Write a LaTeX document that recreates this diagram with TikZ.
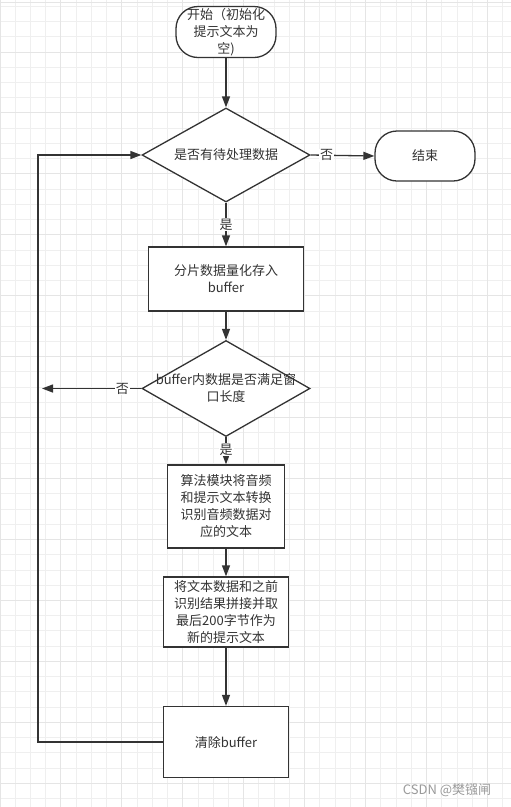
\documentclass[tikz,border=0pt]{standalone}
\usepackage{fontspec}
\setmainfont{Noto Sans CJK SC}
\usetikzlibrary{shapes.geometric,arrows.meta}
\definecolor{ln}{HTML}{333333}
\definecolor{gridminor}{HTML}{EFEFEF}
\definecolor{gridmajor}{HTML}{E5E5E5}
\definecolor{wm}{HTML}{9A9A9A}
\begin{document}
\begin{tikzpicture}[x=1pt,y=-1pt,
  every node/.append style={font=\fontsize{13}{17}\selectfont, text=ln},
  box/.style={draw=ln, line width=1.3pt, fill=white, inner sep=0pt, align=center},
  term/.style={box, rounded corners=22pt},
  dia/.style={diamond, draw=ln, line width=1.3pt, fill=white, inner sep=0pt},
  txt/.style={align=center, inner sep=0pt},
  lab/.style={fill=white, inner sep=1pt},
  arr/.style={draw=ln, line width=1.3pt, -{Triangle[length=11pt,width=8pt]}},
  conn/.style={draw=ln, line width=1.3pt}]
\useasboundingbox (0,0) rectangle (511,807);
\fill[white] (0,0) rectangle (511,807);
% grid
\foreach \i in {0,...,33} \draw[gridminor, line width=1pt] (\i*15.235,0) -- (\i*15.235,807);
\foreach \k in {0,...,52} \draw[gridminor, line width=1pt] (0,6.3+\k*15.235) -- (511,6.3+\k*15.235);
\foreach \i in {0,4,...,32} \draw[gridmajor, line width=1pt] (\i*15.235,0) -- (\i*15.235,807);
\foreach \k in {3,7,...,51} \draw[gridmajor, line width=1pt] (0,6.3+\k*15.235) -- (511,6.3+\k*15.235);
\draw[gridmajor, line width=1pt] (0,2.5) -- (511,2.5);

% nodes
\node[term, minimum width=100pt, minimum height=51pt] (start) at (226,32) {开始（初始化\\提示文本为\\空)};
\node[dia, minimum width=168pt, minimum height=94pt] (d1) at (226,155) {};
\node[txt] (d1t) at (d1.center) {是否有待处理数据};
\node[term, minimum width=100pt, minimum height=50pt] (end) at (425,156) {结束};
\node[box, minimum width=155pt, minimum height=64pt] (b2) at (226,279) {分片数据量化存入\\buffer};
\node[dia, minimum width=168pt, minimum height=96pt] (d2) at (226,388.5) {};
\node[txt] (d2t) at (d2.center) {buffer内数据是否满足窗\\口长度};
\node[box, minimum width=117pt, minimum height=83pt] (b3) at (226,506.5) {算法模块将音频\\和提示文本转换\\识别音频数据对\\应的文本};
\node[box, minimum width=125pt, minimum height=70pt] (b4) at (226,612) {将文本数据和之前\\识别结果拼接并取\\最后200字节作为\\新的提示文本};
\node[box, minimum width=125pt, minimum height=71pt] (b5) at (226,742) {清除buffer};
\coordinate (c1) at (42,388.5);
\coordinate (c2) at (38,742);
\node[text=wm, inner sep=0pt] (wmk) at (447,790) {CSDN @樊镪闸};

% connectors
\draw[arr] (start.south) -- (d1.north);
\draw[arr] (d1.east) -- node[lab, pos=0.25] {否} (end.west);
\draw[arr] (d1.south) -- node[lab] {是} (b2.north);
\draw[arr] (b2.south) -- (d2.north);
\draw[arr] (d2.south) -- node[lab, pos=0.45] {是} (b3.north);
\draw[arr] (d2.west) -- node[lab, pos=0.19] {否} (c1);
\draw[arr] (b3.south) -- (b4.north);
\draw[arr] (b4.south) -- (b5.north);
\draw[arr] (b5.west) -- (c2) |- (d1.west);
\end{tikzpicture}
\end{document}
